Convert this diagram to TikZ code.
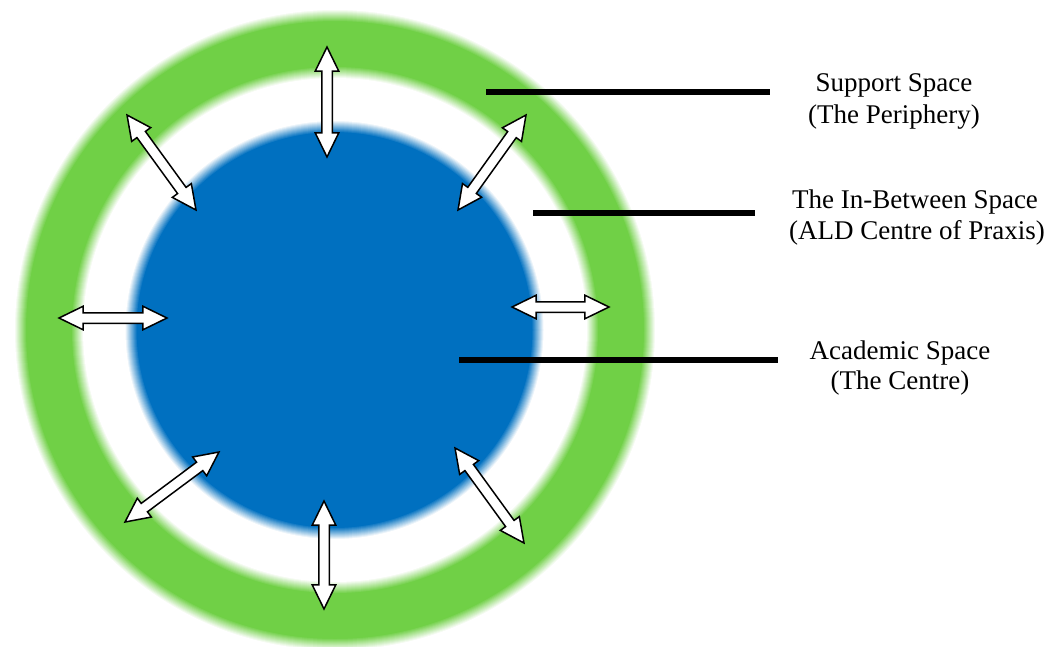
\documentclass[tikz,border=0pt]{standalone}
\usepackage{fontspec}
\setmainfont{Liberation Serif}
\usetikzlibrary{shapes.arrows,calc}
\definecolor{ringgreen}{RGB}{112,208,70}
\definecolor{coreblue}{RGB}{0,112,192}
\tikzset{
  tw/.style={double arrow, draw=black, fill=white, line width=1.5pt, inner sep=4.5pt,
    double arrow head extend=6.5pt, double arrow tip angle=52, minimum width=22pt},
  lead/.style={line width=5.5pt, black},
  lbl/.style={font=\fontsize{27}{31}\selectfont, anchor=base, inner sep=0pt},
  soft/.style={line width=2pt},
}
\newcommand\twoway[3]{%
  \path let \p1=(#2), \p2=(#3), \n1={atan2(\y2-\y1,\x2-\x1)}, \n2={veclen(\x2-\x1,\y2-\y1)} in
    node[tw, rotate=\n1, minimum height=\n2] (#1) at ($(#2)!0.5!(#3)$) {};}
\begin{document}
\begin{tikzpicture}[x=1pt,y=-1pt]
\useasboundingbox (0,0) rectangle (1051,646);
\fill[white] (0,0) rectangle (1051,646);
% green ring
\coordinate (gc) at (335,330);
\fill[ringgreen, even odd rule] (gc) circle (309pt) (gc) circle (263pt);
\foreach \i in {0,...,12} {
  \pgfmathtruncatemacro\p{100-100*\i/12}
  \draw[soft, ringgreen!\p!white] (gc) circle ({309+\i*1pt});
  \draw[soft, ringgreen!\p!white] (gc) circle ({263-\i*1pt});
}
% blue core
\coordinate (bc) at (334.5,330);
\fill[coreblue] (bc) circle (198pt);
\foreach \i in {0,...,12} {
  \pgfmathtruncatemacro\p{100-100*\i/12}
  \draw[soft, coreblue!\p!white] (bc) circle ({198+\i*1pt});
}
% leader lines
\coordinate (s0) at (486,92);  \coordinate (s1) at (770,92);
\coordinate (m0) at (533,213); \coordinate (m1) at (755,213);
\coordinate (c0) at (459,360); \coordinate (c1) at (778,360);
\draw[lead] (s0) -- (s1);
\draw[lead] (m0) -- (m1);
\draw[lead] (c0) -- (c1);
% labels
\node[lbl] (sup1) at (894,91) {Support Space};
\node[lbl] (sup2) at (894,123) {(The Periphery)};
\node[lbl] (mid1) at (915,208) {The In-Between Space};
\node[lbl] (mid2) at (917,239) {(ALD Centre of Praxis)};
\node[lbl] (aca1) at (900,359) {Academic Space};
\node[lbl] (aca2) at (900,389) {(The Centre)};
% double arrows
\coordinate (at0) at (327,47);  \coordinate (at1) at (327,157);
\coordinate (atl0) at (127,115); \coordinate (atl1) at (196,210);
\coordinate (atr0) at (526,115); \coordinate (atr1) at (458,210);
\coordinate (al0) at (59,318);  \coordinate (al1) at (167,318);
\coordinate (ar0) at (512,307); \coordinate (ar1) at (609,307);
\coordinate (abl0) at (125,522); \coordinate (abl1) at (219,452);
\coordinate (ab0) at (324,501); \coordinate (ab1) at (324,609);
\coordinate (abr0) at (455,448); \coordinate (abr1) at (524,543);
\twoway{arT}{at0}{at1}
\twoway{arTL}{atl0}{atl1}
\twoway{arTR}{atr0}{atr1}
\twoway{arL}{al0}{al1}
\twoway{arR}{ar0}{ar1}
\twoway{arBL}{abl0}{abl1}
\twoway{arB}{ab0}{ab1}
\twoway{arBR}{abr0}{abr1}
\end{tikzpicture}
\end{document}
